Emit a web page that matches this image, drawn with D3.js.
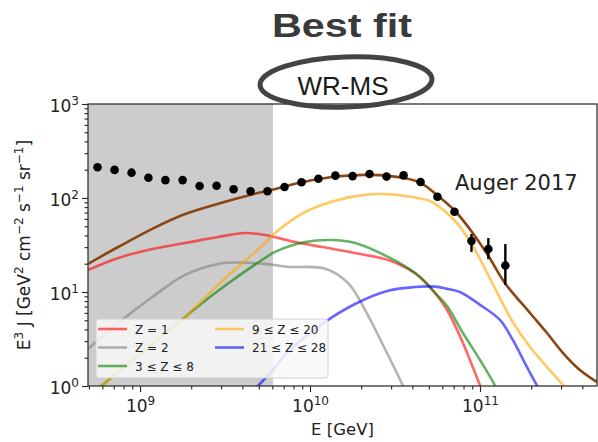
<!DOCTYPE html>
<html>
<head>
<meta charset="utf-8">
<script src="https://cdn.jsdelivr.net/npm/d3@7"></script>
<style>
  body { margin: 0; background: #fff; }
  svg { display: block; }
  text { font-family: "DejaVu Sans", sans-serif; fill: #222; }
</style>
</head>
<body>
<svg id="chart" width="598" height="442"></svg>
<script>
// Auger 2017 data points: energy [GeV] and E^3 J
let augerE = [5.62e8, 7.08e8, 8.91e8, 1.12e9, 1.41e9, 1.78e9, 2.24e9, 2.82e9, 3.55e9, 4.47e9,
    5.62e9, 7.08e9, 8.91e9, 1.12e10, 1.41e10, 1.78e10, 2.24e10, 2.82e10, 3.55e10, 4.47e10,
    5.62e10, 7.08e10, 8.91e10, 1.12e11, 1.41e11];
let augerJ = [212, 199, 186, 164, 155, 155, 134, 135, 124, 118,
    118, 131, 147, 160, 173, 171, 180, 169, 174, 148,
    103, 71.5, 34.9, 28.7, 19.1];
let augerLo = [null, null, null, null, null, null, null, null, null, null,
    null, null, null, null, null, null, null, null, null, null,
    null, 66, 26.7, 22.4, 11.9];
let augerHi = [null, null, null, null, null, null, null, null, null, null,
    null, null, null, null, null, null, null, null, null, null,
    null, 78, 41.4, 37.5, 32.4];

// model curves, [E, E^3 J]
let totalFlux = [[4.94e8, 19.9], [7.43e8, 30.1], [1.18e9, 47], [1.84e9, 67.5], [2.88e9, 87],
    [4.56e9, 109], [5.82e9, 121], [8.97e9, 147], [1.42e10, 169], [2.25e10, 176], [3.57e10, 163],
    [4.50e10, 144], [5.66e10, 105], [7.13e10, 72.7], [8.97e10, 43.5], [1.13e11, 23.6],
    [1.40e11, 12.5], [1.97e11, 5.98], [2.48e11, 3.66], [3.08e11, 2.24], [3.87e11, 1.48], [4.88e11, 1.10]];
let z1 = [[4.94e8, 17.1], [7.43e8, 23], [1.18e9, 28.7], [1.84e9, 33.2], [2.88e9, 38.5],
    [4.15e9, 42.4], [5.43e9, 40.4], [8.17e9, 34], [1.18e10, 30.1], [1.84e10, 26], [2.88e10, 21.9],
    [3.77e10, 17.6], [4.44e10, 14.4], [5.08e10, 11.3], [6.40e10, 6.43], [7.94e10, 2.87],
    [8.97e10, 1.67], [1.0e11, 1.02], [1.03e11, 0.9]];
let z2 = [[4.94e8, 2.47], [7.43e8, 4.68], [1.18e9, 8.85], [1.84e9, 15.2], [2.88e9, 19.9],
    [3.87e9, 20.6], [5.43e9, 19.9], [7.43e9, 18.5], [1.22e10, 17.8], [1.67e10, 12.5],
    [2.11e10, 6.43], [2.65e10, 2.87], [3.48e10, 1.05], [3.6e10, 0.9]];
let z3to8 = [[5.8e8, 0.97], [1.18e9, 2.80], [1.84e9, 5.42], [2.88e9, 10.3], [5.43e9, 23],
    [6.22e9, 26.7], [9.35e9, 34], [1.35e10, 35.7], [1.84e10, 33.2], [2.88e10, 23.6],
    [4.15e10, 15.9], [5.43e10, 9.8], [6.40e10, 7.1], [7.94e10, 3.66], [1.0e11, 1.89],
    [1.22e11, 1.02], [1.25e11, 0.9]];
let z9to20 = [[5.8e8, 0.97], [1.18e9, 2.80], [1.84e9, 5.42], [2.88e9, 11.9], [5.43e9, 33.2],
    [6.22e9, 42.4], [9.35e9, 71], [1.46e10, 95.3], [2.11e10, 108], [2.88e10, 110],
    [3.98e10, 102.5], [5.22e10, 90.6], [7.13e10, 56.9], [8.73e10, 34.9], [1.0e11, 22.4],
    [1.15e11, 13.7], [1.56e11, 4.80], [1.97e11, 2.60], [2.48e11, 1.59], [3.08e11, 1.02], [3.2e11, 0.9]];
let z21to28 = [[4.85e9, 0.97], [5.82e9, 1.37], [7.43e9, 2.30], [1.18e10, 4.57], [1.84e10, 7.45],
    [2.88e10, 10.3], [4.15e10, 11.3], [5.43e10, 11.4], [6.40e10, 10.8], [7.62e10, 10],
    [1.0e11, 7.3], [1.31e11, 5.04], [1.56e11, 3.09], [1.89e11, 1.59], [2.16e11, 1.02], [2.25e11, 0.9]];

let shadeMax = 6.05e9;
let xMajor = [1e9, 1e10, 1e11];
let xMajorExp = ["9", "10", "11"];
let yMajor = [1, 10, 100, 1000];
let yMajorExp = ["0", "1", "2", "3"];

let svg = d3.select("#chart");
let pLeft = 88, pRight = 597, pTop = 104, pBottom = 386;

let x = d3.scaleLog().domain([4.94e8, 4.88e11]).range([pLeft, pRight]);
let y = d3.scaleLog().domain([1, 1000]).range([pBottom, pTop]);

svg.append("defs").append("clipPath").attr("id", "plotClip")
    .append("rect").attr("x", pLeft).attr("y", pTop)
    .attr("width", pRight - pLeft).attr("height", pBottom - pTop);

// shaded region
svg.append("rect")
    .attr("x", x(4.94e8)).attr("y", pTop)
    .attr("width", x(shadeMax) - x(4.94e8)).attr("height", pBottom - pTop)
    .attr("fill", "#cccccc");

let line = d3.line().x(d => x(d[0])).y(d => y(d[1])).curve(d3.curveCatmullRom.alpha(0.5));
let curves = svg.append("g").attr("clip-path", "url(#plotClip)");

let series = [
    {data: z1, color: "red", op: 0.6},
    {data: z2, color: "gray", op: 0.6},
    {data: z3to8, color: "green", op: 0.6},
    {data: z9to20, color: "orange", op: 0.6},
    {data: z21to28, color: "blue", op: 0.6},
    {data: totalFlux, color: "#8b4513", op: 1}
];
series.forEach(s => {
    curves.append("path").datum(s.data)
        .attr("d", line)
        .attr("fill", "none")
        .attr("stroke", s.color)
        .attr("stroke-opacity", s.op)
        .attr("stroke-width", 2.6);
});

// data with error bars
let pts = augerE.map((e, i) => ({e: e, j: augerJ[i], lo: augerLo[i], hi: augerHi[i]}));
svg.append("g").selectAll("line").data(pts.filter(d => d.lo != null)).enter()
    .append("line")
    .attr("x1", d => x(d.e)).attr("x2", d => x(d.e))
    .attr("y1", d => y(d.lo)).attr("y2", d => y(d.hi))
    .attr("stroke", "#000").attr("stroke-width", 2.4);
svg.append("g").selectAll("circle").data(pts).enter()
    .append("circle")
    .attr("cx", d => x(d.e)).attr("cy", d => y(d.j))
    .attr("r", 4.3).attr("fill", "#000");

svg.append("text").attr("x", 455).attr("y", 190)
    .attr("font-size", 21).text("Auger 2017");

// legend
let lg = svg.append("g");
lg.append("rect").attr("x", 96).attr("y", 319).attr("width", 232).attr("height", 59)
    .attr("rx", 3).attr("fill", "#f8f8f8").attr("fill-opacity", 0.85)
    .attr("stroke", "#d0d0d0").attr("stroke-width", 1);
let legendItems = [
    {label: "Z = 1", color: "red", col: 0, row: 0},
    {label: "Z = 2", color: "gray", col: 0, row: 1},
    {label: "3 ≤ Z ≤ 8", color: "green", col: 0, row: 2},
    {label: "9 ≤ Z ≤ 20", color: "orange", col: 1, row: 0},
    {label: "21 ≤ Z ≤ 28", color: "blue", col: 1, row: 1}
];
legendItems.forEach(it => {
    let lx = it.col === 0 ? 98 : 215;
    let ly = 329 + it.row * 18.5;
    lg.append("line").attr("x1", lx).attr("x2", lx + 29).attr("y1", ly).attr("y2", ly)
        .attr("stroke", it.color).attr("stroke-opacity", 0.6).attr("stroke-width", 2.6);
    lg.append("text").attr("x", lx + 37).attr("y", ly + 4.5)
        .attr("font-size", 12).text(it.label);
});

// axes
let xMinor = [];
for (let p = 8; p <= 11; p++) {
    for (let m = 2; m <= 9; m++) {
        let v = m * Math.pow(10, p);
        if (v >= 4.94e8 && v <= 4.88e11) xMinor.push(v);
    }
}
let yMinor = [];
for (let p = 0; p <= 2; p++) {
    for (let m = 2; m <= 9; m++) yMinor.push(m * Math.pow(10, p));
}

let xAxisMinor = svg.append("g").attr("transform", "translate(0," + pBottom + ")")
    .call(d3.axisBottom(x).tickValues(xMinor).tickSize(3.5).tickFormat(""));
let xAxis = svg.append("g").attr("transform", "translate(0," + pBottom + ")")
    .call(d3.axisBottom(x).tickValues(xMajor).tickSize(6).tickFormat(""));
let yAxisMinor = svg.append("g").attr("transform", "translate(" + pLeft + ",0)")
    .call(d3.axisLeft(y).tickValues(yMinor).tickSize(3.5).tickFormat(""));
let yAxis = svg.append("g").attr("transform", "translate(" + pLeft + ",0)")
    .call(d3.axisLeft(y).tickValues(yMajor).tickSize(6).tickFormat(""));

[xAxisMinor, xAxis, yAxisMinor, yAxis].forEach(a => {
    a.select(".domain").remove();
    a.selectAll(".tick line").attr("stroke", "#222").attr("stroke-width", 1.1);
});

xAxis.selectAll(".tick").each(function(d, i) {
    let t = d3.select(this).append("text")
        .attr("y", 26).attr("text-anchor", "middle").attr("font-size", 17)
        .attr("fill", "#222");
    t.append("tspan").text("10");
    t.append("tspan").attr("dy", -7).attr("font-size", 12).text(xMajorExp[i]);
});
yAxis.selectAll(".tick").each(function(d, i) {
    let t = d3.select(this).append("text")
        .attr("x", -9).attr("y", 7).attr("text-anchor", "end").attr("font-size", 17)
        .attr("fill", "#222");
    t.append("tspan").text("10");
    t.append("tspan").attr("dy", -7).attr("font-size", 12).text(yMajorExp[i]);
});

// frame
svg.append("rect").attr("x", pLeft).attr("y", pTop)
    .attr("width", pRight - pLeft).attr("height", pBottom - pTop)
    .attr("fill", "none").attr("stroke", "#333").attr("stroke-width", 1.3);

// axis labels
svg.append("text").attr("x", (pLeft + pRight) / 2).attr("y", 435)
    .attr("text-anchor", "middle").attr("font-size", 16.5).text("E [GeV]");

let yl = svg.append("text").attr("text-anchor", "middle").attr("font-size", 17)
    .attr("transform", "translate(30,245) rotate(-90)");
let ylParts = [["E", ""], ["3", "sup"], [" J [GeV", ""], ["2", "sup"], [" cm", ""], ["−2", "sup"],
    [" s", ""], ["−1", "sup"], [" sr", ""], ["−1", "sup"], ["]", ""]];
let prevSup = false;
ylParts.forEach(p => {
    let isSup = p[1] === "sup";
    let ts = yl.append("tspan").text(p[0]);
    if (isSup) ts.attr("font-size", 12);
    if (isSup && !prevSup) ts.attr("dy", -7);
    else if (!isSup && prevSup) ts.attr("dy", 7);
    prevSup = isSup;
});

// title and annotation
svg.append("text").attr("x", 342).attr("y", 37).attr("text-anchor", "middle")
    .style("font-family", "'Liberation Sans', Arial, sans-serif")
    .style("font-weight", "bold").style("fill", "#3a3a3a")
    .attr("font-size", 34).attr("textLength", 140).attr("lengthAdjust", "spacingAndGlyphs")
    .text("Best fit");

svg.append("ellipse").attr("cx", 346).attr("cy", 82).attr("rx", 86).attr("ry", 25)
    .attr("transform", "rotate(-2,346,82)")
    .attr("fill", "none").attr("stroke", "#444").attr("stroke-width", 5);
svg.append("text").attr("x", 343).attr("y", 95).attr("text-anchor", "middle")
    .style("font-family", "'Liberation Sans', Arial, sans-serif")
    .style("fill", "#1a1a1a")
    .attr("font-size", 26).text("WR-MS");
</script>
</body>
</html>
